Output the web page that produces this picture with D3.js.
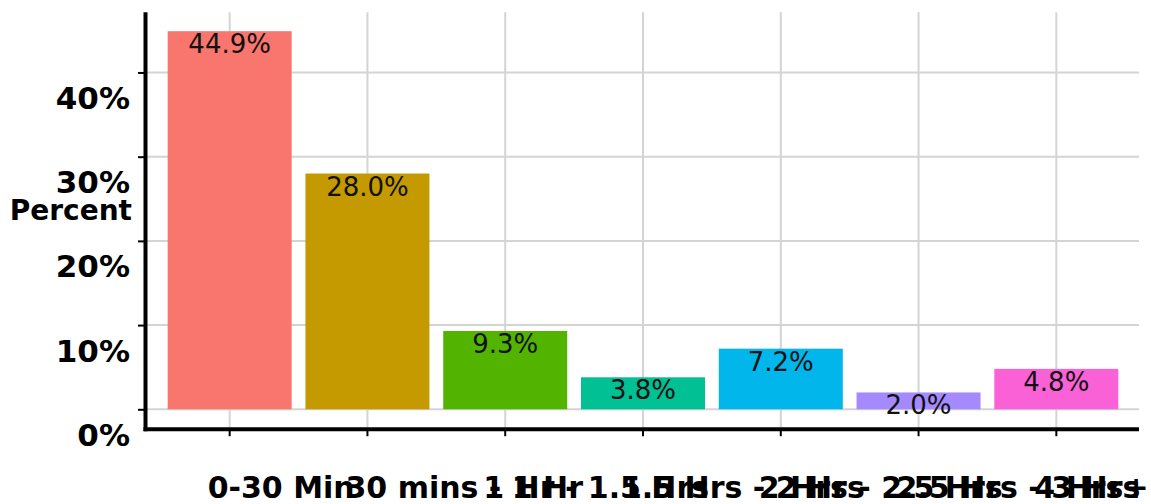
<!DOCTYPE html>
<html>
<head>
<meta charset="utf-8">
<script src="https://cdn.jsdelivr.net/npm/d3@7"></script>
<style>
  html, body { margin: 0; padding: 0; background: #ffffff; }
  svg { display: block; }
</style>
</head>
<body>
<svg id="chart" width="1151" height="504"></svg>
<script>
// Time spent per session, share of respondents
const categories = ["0-30 Min", "30 mins - 1 Hr", "1 Hr - 1.5 Hrs", "1.5 Hrs - 2 Hrs",
                    "2 Hrs - 2.5 Hrs", "2.5 Hrs - 3 Hrs", "4 Hrs+"];
const percents = [44.9, 28.0, 9.3, 3.8, 7.2, 2.0, 4.8];
const yTicks = [0, 10, 20, 30, 40];
const yTickLabels = ["0%", "10%", "20%", "30%", "40%"];
const barColors = ["#F8766D", "#C49A00", "#53B400", "#00C094", "#00B6EB", "#A58AFF", "#FB61D7"];

const svg = d3.select("#chart");
const panel = { left: 147, right: 1139, top: 12.3, bottom: 428.2 };

// Continuous axis padded 5% on both ends of the data range
const maxV = d3.max(percents);
const pad = maxV * 0.05;
const y = d3.scaleLinear().domain([-pad, maxV + pad]).range([panel.bottom, panel.top]);

const x = d3.scaleBand()
  .domain(categories)
  .range([panel.left, panel.right])
  .paddingInner(0.1)
  .paddingOuter(0.15);

const gridColor = "#d4d4d4";
const font = "'DejaVu Sans', Verdana, sans-serif";

// grid
svg.append("g").selectAll("line.h").data(yTicks).join("line")
  .attr("x1", panel.left).attr("x2", panel.right)
  .attr("y1", d => y(d)).attr("y2", d => y(d))
  .attr("stroke", gridColor).attr("stroke-width", 2);

svg.append("g").selectAll("line.v").data(categories).join("line")
  .attr("x1", d => x(d) + x.bandwidth() / 2).attr("x2", d => x(d) + x.bandwidth() / 2)
  .attr("y1", panel.top).attr("y2", panel.bottom)
  .attr("stroke", gridColor).attr("stroke-width", 2);

// bars
svg.append("g").selectAll("rect").data(categories).join("rect")
  .attr("x", d => x(d))
  .attr("width", x.bandwidth())
  .attr("y", (d, i) => y(percents[i]))
  .attr("height", (d, i) => y(0) - y(percents[i]))
  .attr("fill", (d, i) => barColors[i]);

// value labels just inside the bar tops
svg.append("g").selectAll("text").data(categories).join("text")
  .attr("x", d => x(d) + x.bandwidth() / 2)
  .attr("y", (d, i) => y(percents[i]) + 22)
  .attr("text-anchor", "middle")
  .attr("font-family", font)
  .attr("font-size", 26)
  .attr("fill", "#111")
  .text((d, i) => percents[i].toFixed(1) + "%");

// y axis
const yAxis = svg.append("g")
  .attr("transform", `translate(${panel.left - 1},0)`)
  .call(d3.axisLeft(y).tickValues(yTicks).tickSize(8).tickFormat((d, i) => yTickLabels[i]));
yAxis.select(".domain").remove();
yAxis.selectAll(".tick line").attr("stroke", "#000").attr("stroke-width", 2);
yAxis.selectAll(".tick text")
  .attr("x", -16).attr("dy", null).attr("y", 36)
  .attr("text-anchor", "end")
  .attr("font-family", font).attr("font-size", 31).attr("font-weight", "bold")
  .attr("fill", "#000");

// x axis
const xAxis = svg.append("g")
  .attr("transform", `translate(0,${panel.bottom + 1})`)
  .call(d3.axisBottom(x).tickSize(7));
xAxis.select(".domain").remove();
xAxis.selectAll(".tick line").attr("stroke", "#000").attr("stroke-width", 2);
xAxis.selectAll(".tick text")
  .attr("x", -22).attr("y", 69).attr("dy", null)
  .attr("text-anchor", "start")
  .attr("font-family", font).attr("font-size", 30).attr("font-weight", "bold")
  .attr("fill", "#000");

// axis lines
svg.append("line")
  .attr("x1", panel.left - 1.5).attr("x2", panel.left - 1.5)
  .attr("y1", panel.top).attr("y2", panel.bottom + 3)
  .attr("stroke", "#000").attr("stroke-width", 4);
svg.append("line")
  .attr("x1", panel.left - 3.5).attr("x2", panel.right)
  .attr("y1", panel.bottom + 1).attr("y2", panel.bottom + 1)
  .attr("stroke", "#000").attr("stroke-width", 4);

// axis title
svg.append("text")
  .attr("x", 132).attr("y", 220)
  .attr("text-anchor", "end")
  .attr("font-family", font).attr("font-size", 28).attr("font-weight", "bold")
  .attr("fill", "#000")
  .text("Percent");
</script>
</body>
</html>
